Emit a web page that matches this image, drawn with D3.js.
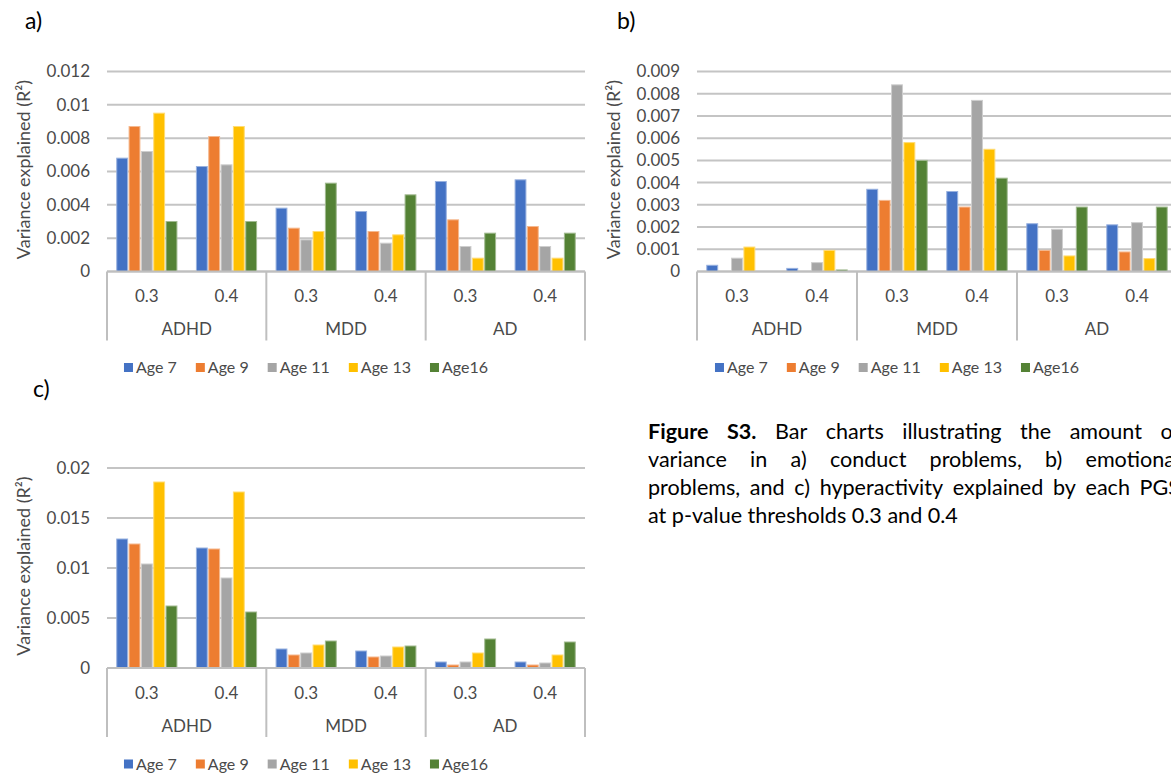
<!DOCTYPE html>
<html>
<head>
<meta charset="utf-8">
<title>Figure S3</title>
<script src="https://d3js.org/d3.v7.min.js"></script>
<style>
    body {
        margin: 0;
        background: #fff;
    }

    svg {
        display: block;
        font-family: Lato, "Open Sans", sans-serif;
    }

    .tick-label, .cat-label {
        font-size: 17px;
        fill: #4a4a4a;
    }

    .axis-title {
        font-size: 18px;
        fill: #4a4a4a;
    }

    .legend-label {
        font-size: 16px;
        fill: #4a4a4a;
    }

    .panel-label {
        font-size: 23px;
        fill: #000;
    }

    .caption {
        fill: #000;
    }
</style>
</head>
<body>
<svg id="figure" width="1171" height="774"></svg>
<script>
    const groups = ["ADHD", "MDD", "AD"];
    const thresholds = ["0.3", "0.4"];
    const ages = ["Age 7", "Age 9", "Age 11", "Age 13", "Age16"];
    const ageColors = ["#4472C4", "#ED7D31", "#A5A5A5", "#FFC000", "#548235"];

    // rows: ADHD 0.3, ADHD 0.4, MDD 0.3, MDD 0.4, AD 0.3, AD 0.4 -- columns follow ages
    const conductValues = [
        [0.0068, 0.0087, 0.0072, 0.0095, 0.0030],
        [0.0063, 0.0081, 0.0064, 0.0087, 0.0030],
        [0.0038, 0.0026, 0.0019, 0.0024, 0.0053],
        [0.0036, 0.0024, 0.0017, 0.0022, 0.0046],
        [0.0054, 0.0031, 0.0015, 0.0008, 0.0023],
        [0.0055, 0.0027, 0.0015, 0.0008, 0.0023]
    ];
    const conductTicks = [0, 0.002, 0.004, 0.006, 0.008, 0.01, 0.012];

    const emotionalValues = [
        [0.00028, 0, 0.0006, 0.0011, 0],
        [0.00014, 0, 0.0004, 0.00095, 0.00007],
        [0.0037, 0.0032, 0.0084, 0.0058, 0.0050],
        [0.0036, 0.0029, 0.0077, 0.0055, 0.0042],
        [0.00215, 0.00095, 0.0019, 0.0007, 0.0029],
        [0.0021, 0.00088, 0.0022, 0.00058, 0.0029]
    ];
    const emotionalTicks = [0, 0.001, 0.002, 0.003, 0.004, 0.005, 0.006, 0.007, 0.008, 0.009];

    const hyperValues = [
        [0.0129, 0.0124, 0.0104, 0.0186, 0.0062],
        [0.0120, 0.0119, 0.0090, 0.0176, 0.0056],
        [0.0019, 0.0013, 0.0015, 0.0023, 0.0027],
        [0.0017, 0.0011, 0.0012, 0.0021, 0.0022],
        [0.0006, 0.0003, 0.0006, 0.0015, 0.0029],
        [0.0006, 0.0003, 0.0005, 0.0013, 0.0026]
    ];
    const hyperTicks = [0, 0.005, 0.01, 0.015, 0.02];

    const captionLines = [
        "Figure S3. Bar charts illustrating the amount of",
        "variance in a) conduct problems, b) emotional",
        "problems, and c) hyperactivity explained by each PGS",
        "at p-value thresholds 0.3 and 0.4"
    ];

    const svg = d3.select("#figure");

    function drawPanel(p) {
        const g = svg.append("g");
        const y = d3.scaleLinear().domain([0, d3.max(p.ticks)]).range([p.yBase, p.yTop]);
        const outer = d3.scaleBand().domain(groups).range([p.x0, p.x1]);
        const inner = d3.scaleBand().domain(thresholds).range([0, outer.bandwidth()]);
        const barX = d3.scaleBand().domain(ages).range([0, inner.bandwidth()])
            .paddingInner(0.12).paddingOuter(0.79);

        g.append("text")
            .attr("class", "panel-label")
            .attr("x", p.labelX)
            .attr("y", p.labelY)
            .text(p.label);

        // gridlines
        g.selectAll(".grid")
            .data(p.ticks)
            .join("line")
            .attr("class", "grid")
            .attr("x1", p.x0).attr("x2", p.x1)
            .attr("y1", d => y(d)).attr("y2", d => y(d))
            .attr("stroke", "#C4C4C4")
            .attr("stroke-width", 2);

        g.selectAll(".tick-label")
            .data(p.ticks)
            .join("text")
            .attr("class", "tick-label")
            .attr("x", p.x0 - 17)
            .attr("y", d => y(d))
            .attr("dy", "0.35em")
            .attr("text-anchor", "end")
            .text(d => String(d));

        g.append("text")
            .attr("class", "axis-title")
            .attr("transform", `translate(${p.titleX},${(p.yBase + p.yTop) / 2 - 2}) rotate(-90)`)
            .attr("text-anchor", "middle")
            .attr("dy", "0.35em")
            .text("Variance explained (R²)");

        const rows = [];
        groups.forEach((grp, gi) => thresholds.forEach((t, ti) => {
            rows.push({ grp, t, values: p.values[gi * 2 + ti] });
        }));

        const rowG = g.selectAll(".row")
            .data(rows)
            .join("g")
            .attr("class", "row")
            .attr("transform", d => `translate(${outer(d.grp) + inner(d.t)},0)`);

        rowG.selectAll("rect")
            .data(d => d.values.map((v, i) => ({ v, age: ages[i], color: ageColors[i] })))
            .join("rect")
            .attr("x", d => barX(d.age))
            .attr("width", barX.bandwidth())
            .attr("y", d => y(d.v))
            .attr("height", d => y(0) - y(d.v))
            .attr("fill", d => d.color)
            .attr("stroke", d => d3.interpolateRgb(d.color, "#fff")(0.45))
            .attr("stroke-width", d => d.v > 0 ? 1 : 0);

        rowG.append("text")
            .attr("class", "cat-label")
            .attr("x", inner.bandwidth() / 2)
            .attr("y", p.yBase + 25)
            .attr("dy", "0.35em")
            .attr("text-anchor", "middle")
            .text(d => d.t);

        // category box
        g.append("line")
            .attr("x1", p.x0).attr("x2", p.x1)
            .attr("y1", p.yBase).attr("y2", p.yBase)
            .attr("stroke", "#BFBFBF").attr("stroke-width", 2);

        const edges = groups.map(d => outer(d)).concat([p.x1]);
        g.selectAll(".box-edge")
            .data(edges)
            .join("line")
            .attr("class", "box-edge")
            .attr("x1", d => d).attr("x2", d => d)
            .attr("y1", p.yBase).attr("y2", p.yBase + 69)
            .attr("stroke", "#BFBFBF").attr("stroke-width", 2);

        g.selectAll(".group-label")
            .data(groups)
            .join("text")
            .attr("class", "cat-label group-label")
            .attr("x", d => outer(d) + outer.bandwidth() / 2)
            .attr("y", p.yBase + 58)
            .attr("dy", "0.35em")
            .attr("text-anchor", "middle")
            .text(d => d);

        // legend
        const legend = g.append("g");
        const items = legend.selectAll("g")
            .data(ages)
            .join("g");
        items.append("rect")
            .attr("width", 9).attr("height", 9)
            .attr("y", -4.5)
            .attr("fill", (d, i) => ageColors[i]);
        items.append("text")
            .attr("class", "legend-label")
            .attr("x", 12)
            .attr("dy", "0.35em")
            .text(d => d);
        let cx = 0;
        items.each(function () {
            const w = 12 + d3.select(this).select("text").node().getComputedTextLength();
            d3.select(this).attr("transform", `translate(${cx},0)`);
            cx += w + 19;
        });
        const total = cx - 19;
        legend.attr("transform", `translate(${p.legendCenter - total / 2},${p.yBase + 96})`);
    }

    drawPanel({
        label: "a)", labelX: 25, labelY: 29,
        x0: 107, x1: 585, yTop: 71.5, yBase: 271.5,
        titleX: 24, legendCenter: 306,
        ticks: conductTicks, values: conductValues
    });

    drawPanel({
        label: "b)", labelX: 617, labelY: 29,
        x0: 697, x1: 1177, yTop: 71.5, yBase: 271.5,
        titleX: 614, legendCenter: 897,
        ticks: emotionalTicks, values: emotionalValues
    });

    drawPanel({
        label: "c)", labelX: 33, labelY: 397,
        x0: 107, x1: 585, yTop: 468, yBase: 668,
        titleX: 24, legendCenter: 306,
        ticks: hyperTicks, values: hyperValues
    });

    // caption, justified like the source document (runs past the right edge as in the source)
    const capLeft = 648, capRight = 1180, capTop = 431, capLead = 28;
    const cap = svg.append("g").attr("class", "caption");
    let capSize = 18;

    function layoutCaption() {
        cap.selectAll("*").remove();
        const probe = cap.append("text").style("font-size", capSize + "px").text("a a");
        const probe2 = cap.append("text").style("font-size", capSize + "px").text("aa");
        const spaceW = probe.node().getComputedTextLength() - probe2.node().getComputedTextLength();
        probe.remove(); probe2.remove();
        let lastWidth = 0;
        captionLines.forEach((line, li) => {
            const words = line.split(" ");
            const nodes = words.map((w, wi) => cap.append("text")
                .style("font-size", capSize + "px")
                .style("font-weight", li === 0 && wi < 2 ? "bold" : "normal")
                .attr("y", capTop + li * capLead)
                .attr("dy", "0.35em")
                .text(w));
            const widths = nodes.map(n => n.node().getComputedTextLength());
            const sum = d3.sum(widths);
            const last = li === captionLines.length - 1;
            const gap = last ? spaceW : (capRight - capLeft - sum) / (words.length - 1);
            let x = capLeft;
            nodes.forEach((n, i) => {
                n.attr("x", x);
                x += widths[i] + gap;
            });
            if (last) lastWidth = x - gap - capLeft;
        });
        return lastWidth;
    }

    const w0 = layoutCaption();
    capSize = capSize * 310 / w0;
    layoutCaption();
</script>
</body>
</html>
